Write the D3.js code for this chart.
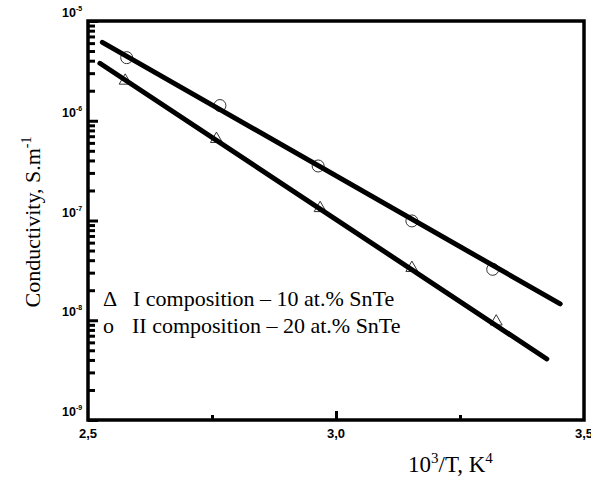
<!DOCTYPE html>
<html lang="en">
<head>
<meta charset="utf-8">
<title>Conductivity vs 1000/T</title>
<script src="https://cdn.jsdelivr.net/npm/d3@7"></script>
<style>
  body { margin: 0; background: #fff; }
  text { fill: #000; }
  .tick-lbl { font-family: "Liberation Sans", Arial, sans-serif; font-weight: bold; }
  .serif { font-family: "Liberation Serif", "Times New Roman", serif; }
</style>
</head>
<body>
<svg id="chart" width="591" height="477"></svg>
<script>

// series I: 10 at.% SnTe (triangles)
var xI = [2.575, 2.759, 2.968, 3.153, 3.323]
var yI = [2.52e-6, 6.56e-7, 1.33e-7, 3.34e-8, 9.7e-9]
// series II: 20 at.% SnTe (circles)
var xII = [2.578, 2.766, 2.964, 3.153, 3.316]
var yII = [4.29e-6, 1.42e-6, 3.52e-7, 9.9e-8, 3.24e-8]

// fitted lines, end points
var fitIx = [2.524, 3.425]
var fitIy = [3.77e-6, 4.09e-9]
var fitIIx = [2.529, 3.452]
var fitIIy = [6.11e-6, 1.46e-8]

var xMajor = [2.5, 3.0, 3.5]
var xMinor = [2.75, 3.25]
var xLabels = ["2,5", "3,0", "3,5"]
var yExp = [-5, -6, -7, -8, -9]

var legendLabels = ["I composition \u2013 10 at.% SnTe", "II composition \u2013 20 at.% SnTe"]
var legendSymbols = ["\u0394", "o"]

var svg = d3.select("#chart"),
    margin = {top: 21, left: 88, bottom: 57, right: 7},
    width = +svg.attr("width"),
    height = +svg.attr("height");

var x = d3.scaleLinear()
  .domain([2.5, 3.5])
  .range([margin.left, width - margin.right])

var y = d3.scaleLog()
  .domain([1e-9, 1e-5])
  .range([height - margin.bottom, margin.top])

// y ticks (inside)
var allY = y.ticks().filter(v => Math.abs(Math.log10(v) - Math.round(Math.log10(v))) > 1e-6)
svg.append("g")
  .attr("transform", `translate(${margin.left},0)`)
  .call(d3.axisLeft(y).tickValues(allY).tickSize(-7).tickFormat(""))
  .call(g => g.select(".domain").remove())
  .call(g => g.selectAll("line").attr("stroke", "#000").attr("stroke-width", 3))

svg.append("g")
  .attr("transform", `translate(${margin.left},0)`)
  .call(d3.axisLeft(y).tickValues(yExp.map(e => Math.pow(10, e))).tickSize(-10).tickFormat(""))
  .call(g => g.select(".domain").remove())
  .call(g => g.selectAll("line").attr("stroke", "#000").attr("stroke-width", 3))

// x ticks (inside)
svg.append("g")
  .attr("transform", `translate(0,${height - margin.bottom})`)
  .call(d3.axisBottom(x).tickValues(xMinor).tickSize(-5).tickFormat(""))
  .call(g => g.select(".domain").remove())
  .call(g => g.selectAll("line").attr("stroke", "#000").attr("stroke-width", 3))

svg.append("g")
  .attr("transform", `translate(0,${height - margin.bottom})`)
  .call(d3.axisBottom(x).tickValues([3.0]).tickSize(-9).tickFormat(""))
  .call(g => g.select(".domain").remove())
  .call(g => g.selectAll("line").attr("stroke", "#000").attr("stroke-width", 3))

// frame
svg.append("rect")
  .attr("x", margin.left)
  .attr("y", margin.top)
  .attr("width", width - margin.right - margin.left)
  .attr("height", height - margin.bottom - margin.top)
  .attr("fill", "none")
  .attr("stroke", "#000")
  .attr("stroke-width", 3.5)

// y tick labels
var yl = svg.selectAll(".ylab")
  .data(yExp)
  .enter().append("text")
  .attr("class", "tick-lbl ylab")
  .attr("x", 62)
  .attr("y", d => y(Math.pow(10, d)) - 4)
  .attr("font-size", "12.5px")
yl.append("tspan").text("10")
yl.append("tspan")
  .attr("dy", -6)
  .attr("font-size", "7px")
  .text(d => d)

// x tick labels
svg.selectAll(".xlab")
  .data(xMajor)
  .enter().append("text")
  .attr("class", "tick-lbl xlab")
  .attr("x", d => x(d))
  .attr("y", 438)
  .attr("text-anchor", "middle")
  .attr("font-size", "13px")
  .text((d, i) => xLabels[i])

// markers
svg.selectAll(".tri")
  .data(xI)
  .enter().append("path")
  .attr("class", "tri")
  .attr("transform", (d, i) => `translate(${x(d)},${y(yI[i])})`)
  .attr("d", d3.symbol().type(d3.symbolTriangle).size(62))
  .attr("fill", "none")
  .attr("stroke", "#333")
  .attr("stroke-width", 1)

svg.selectAll(".circ")
  .data(xII)
  .enter().append("circle")
  .attr("class", "circ")
  .attr("cx", d => x(d))
  .attr("cy", (d, i) => y(yII[i]))
  .attr("r", 6)
  .attr("fill", "none")
  .attr("stroke", "#333")
  .attr("stroke-width", 1)

// fit lines
var line = d3.line()
  .x(d => x(d[0]))
  .y(d => y(d[1]))

svg.append("path")
  .datum(fitIx.map((d, i) => [d, fitIy[i]]))
  .attr("d", line)
  .attr("fill", "none")
  .attr("stroke", "#000")
  .attr("stroke-width", 5)
  .attr("stroke-linecap", "round")

svg.append("path")
  .datum(fitIIx.map((d, i) => [d, fitIIy[i]]))
  .attr("d", line)
  .attr("fill", "none")
  .attr("stroke", "#000")
  .attr("stroke-width", 5)
  .attr("stroke-linecap", "round")

// legend
svg.selectAll(".legsym")
  .data(legendSymbols)
  .enter().append("text")
  .attr("class", "serif legsym")
  .attr("x", 103)
  .attr("y", (d, i) => 306 + i * 27)
  .attr("font-size", "22px")
  .text(d => d)

svg.selectAll(".legtxt")
  .data(legendLabels)
  .enter().append("text")
  .attr("class", "serif legtxt")
  .attr("x", (d, i) => 133 - i)
  .attr("y", (d, i) => 306 + i * 27)
  .attr("font-size", "22px")
  .text(d => d)

// axis titles
var xt = svg.append("text")
  .attr("class", "serif")
  .attr("x", 408)
  .attr("y", 472)
  .attr("font-size", "23px")
xt.append("tspan").text("10")
xt.append("tspan").attr("dy", -9).attr("font-size", "15px").text("3")
xt.append("tspan").attr("dy", 9).text("/T, K")
xt.append("tspan").attr("dy", -9).attr("font-size", "15px").text("4")

var yt = svg.append("text")
  .attr("class", "serif")
  .attr("transform", "translate(40,222) rotate(-90)")
  .attr("text-anchor", "middle")
  .attr("font-size", "22px")
yt.append("tspan").text("Conductivity, S.m")
yt.append("tspan").attr("dy", -9).attr("font-size", "14px").text("-1")

</script>
</body>
</html>
